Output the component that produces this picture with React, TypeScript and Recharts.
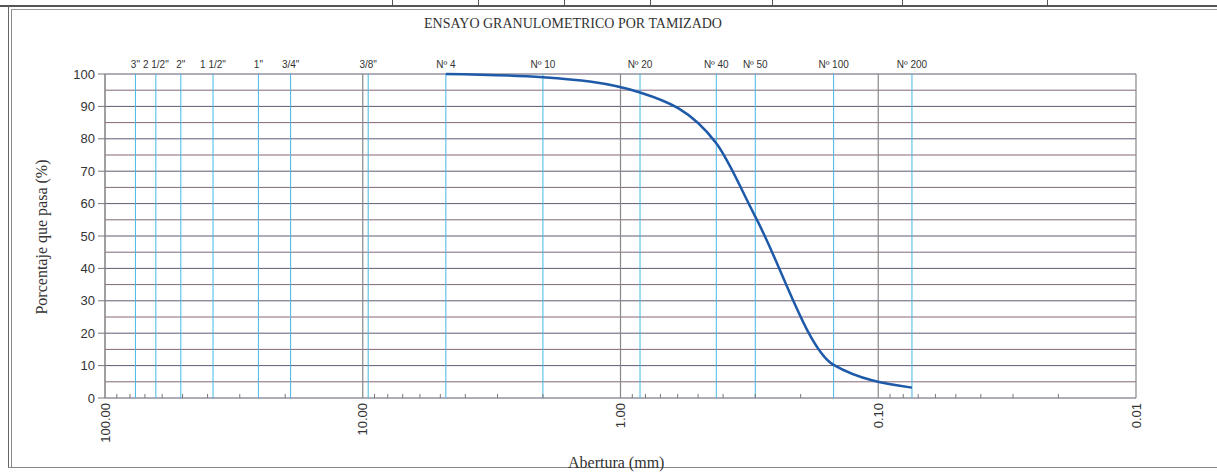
import { Line, LineChart, ReferenceLine, XAxis, YAxis } from 'recharts'

// sieve openings (mm) and their names
const SIEVE_NAMES = ['3"', '2 1/2"', '2"', '1 1/2"', '1"', '3/4"', '3/8"', 'Nº 4', 'Nº 10', 'Nº 20', 'Nº 40', 'Nº 50', 'Nº 100', 'Nº 200']
const SIEVE_SIZES = [76.2, 63.5, 50.8, 38.1, 25.4, 19.05, 9.525, 4.76, 2.0, 0.84, 0.425, 0.3, 0.149, 0.074]

// passing curve (from Nº 4 down)
const CURVE_SIZES = [4.76, 2.0, 0.84, 0.425, 0.3, 0.149, 0.074]
const CURVE_PASSING = [100, 99, 94.3, 78.6, 56, 10.2, 3.2]

const DECADES = [100, 10, 1, 0.1, 0.01]
const DECADE_LABELS = ['100.00', '10.00', '1.00', '0.10', '0.01']
const MINOR_FACTORS = [2, 3, 4, 5, 6, 7, 8, 9]
const Y_TICKS = [0, 10, 20, 30, 40, 50, 60, 70, 80, 90, 100]
const H_GRID = [0, 5, 10, 15, 20, 25, 30, 35, 40, 45, 50, 55, 60, 65, 70, 75, 80, 85, 90, 95, 100]

// little cells of the table above the chart
const TOP_CELL_LINES = [392, 478, 564, 650, 772, 902, 1047]

const data = CURVE_SIZES.map((size, i) => ({ size, passing: CURVE_PASSING[i] }))
const bottomTicks = [
  ...DECADES,
  ...DECADES.slice(1).flatMap(d => MINOR_FACTORS.map(k => +(d * k).toPrecision(3))),
]

const SERIF = '"Liberation Serif", "DejaVu Serif", serif'
const SANS = '"Liberation Sans", Arial, sans-serif'
const NARROW = '"Liberation Sans Narrow", "Liberation Sans", Arial, sans-serif'

function BottomTick({ x, y, payload }: any) {
  const idx = DECADES.indexOf(payload.value)
  if (idx < 0) {
    return <line x1={x} x2={x} y1={y} y2={y - 4} stroke="#777" strokeWidth={1} />
  }
  return (
    <g transform={`translate(${x},${y})`}>
      <text transform="rotate(-90)" x={-5} y={4.5} textAnchor="end" fontSize={13} fontFamily={SANS} fill="#333">
        {DECADE_LABELS[idx]}
      </text>
    </g>
  )
}

export default function App() {
  return (
    <div style={{ position: 'absolute', left: 0, top: 0, width: 1217, height: 474, background: '#fff', overflow: 'hidden' }}>
      {/* frame of the scanned sheet */}
      <div style={{ position: 'absolute', left: 0, top: 5, width: 1217, height: 2, background: '#555' }} />
      {TOP_CELL_LINES.map(x => (
        <div key={x} style={{ position: 'absolute', left: x, top: 0, width: 1, height: 6, background: '#555' }} />
      ))}
      <div style={{ position: 'absolute', left: 8, top: 6, width: 1, height: 462, background: '#666' }} />
      <div style={{ position: 'absolute', left: 11, top: 9, width: 1, height: 458, background: '#888' }} />
      <div style={{ position: 'absolute', left: 11, top: 9, width: 1206, height: 1, background: '#999' }} />
      <div style={{ position: 'absolute', left: 8, top: 467, width: 1209, height: 1, background: '#888' }} />

      <div style={{ position: 'absolute', left: 0, top: 16, width: 1146, textAlign: 'center', fontFamily: SERIF, fontSize: 14, color: '#333' }}>
        ENSAYO GRANULOMETRICO POR TAMIZADO
      </div>
      <div style={{ position: 'absolute', left: 42, top: 237, width: 0, height: 0 }}>
        <div style={{ position: 'absolute', transform: 'translate(-50%,-50%) rotate(-90deg)', whiteSpace: 'nowrap', fontFamily: SERIF, fontSize: 16, color: '#333' }}>
          Porcentaje que pasa (%)
        </div>
      </div>
      <div style={{ position: 'absolute', left: 568, top: 454, fontFamily: SERIF, fontSize: 16, color: '#333', whiteSpace: 'nowrap' }}>
        Abertura (mm)
      </div>

      <div style={{ position: 'absolute', left: 0, top: 0 }}>
        <LineChart width={1217} height={474} data={data} margin={{ top: 74, right: 81, bottom: 26, left: 55 }}>
          <XAxis
            xAxisId="bottom" dataKey="size" type="number" scale="log" domain={[0.01, 100]} reversed allowDataOverflow
            ticks={bottomTicks} interval={0} tick={<BottomTick />} tickSize={0} tickMargin={0}
            axisLine={false} tickLine={false} height={50}
          />
          <YAxis
            domain={[0, 100]} ticks={Y_TICKS} interval={0} width={50}
            tick={{ fontSize: 13, fontFamily: SANS, fill: '#333' }} tickSize={7} tickMargin={3}
            tickLine={{ stroke: '#777' }} axisLine={{ stroke: '#888' }}
          />
          {H_GRID.map(v => (
            <ReferenceLine key={'h' + v} xAxisId="bottom" y={v} stroke={v % 10 === 0 ? '#5f5b72' : '#84667a'} strokeWidth={1} />
          ))}
          {DECADES.map(v => (
            <ReferenceLine key={'d' + v} xAxisId="bottom" x={v} stroke="#888" strokeWidth={1.2} />
          ))}
          {SIEVE_SIZES.map((v, i) => (
            <ReferenceLine
              key={'s' + v} xAxisId="bottom" x={v} stroke="#45b8e4" strokeWidth={1}
              label={{ value: SIEVE_NAMES[i], position: 'top', offset: 6, fontSize: 10, fontFamily: NARROW, fill: '#333' }}
            />
          ))}
          <Line
            xAxisId="bottom" type="monotone" dataKey="passing" stroke="#1f5aa8" strokeWidth={2.5}
            dot={false} isAnimationActive={false}
          />
        </LineChart>
      </div>
    </div>
  )
}
